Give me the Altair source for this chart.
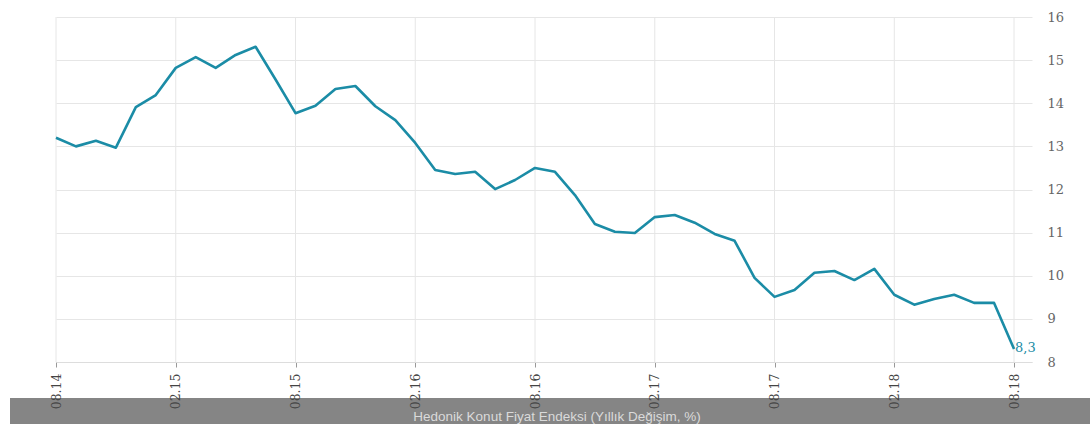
import json
import altair as alt
import pandas as pd

values = [13.2, 13.0, 13.13, 12.97, 13.91, 14.19, 14.82, 15.07, 14.82, 15.12,
          15.31, 14.55, 13.77, 13.94, 14.33, 14.40, 13.93, 13.61, 13.08, 12.45,
          12.36, 12.41, 12.01, 12.22, 12.50, 12.41, 11.87, 11.20, 11.02, 10.99,
          11.36, 11.41, 11.23, 10.97, 10.81, 9.95, 9.51, 9.67, 10.07, 10.11,
          9.90, 10.16, 9.56, 9.33, 9.46, 9.56, 9.37, 9.37, 8.3]
tick_labels = ["08.14", "02.15", "08.15", "02.16", "08.16", "02.17", "08.17", "02.18", "08.18"]
tick_positions = [0, 6, 12, 18, 24, 30, 36, 42, 48]
y_ticks = [8, 9, 10, 11, 12, 13, 14, 15, 16]
title_text = "Hedonik Konut Fiyat Endeksi (Yıllık Değişim, %)"
last_label = "8,3"

df = pd.DataFrame({"i": list(range(len(values))), "v": values})
ticks_df = pd.DataFrame({"i": tick_positions})

xscale = alt.Scale(domain=[0, 48.9], nice=False, zero=False)
yscale = alt.Scale(domain=[8, 16], nice=False, zero=False)

label_expr = json.dumps(tick_labels) + "[round(datum.value/6)]"

bar = alt.Chart(alt.Data(values=[{}])).mark_rect(color="#858585").encode(
    x=alt.value(-46), x2=alt.value(1034), y=alt.value(381), y2=alt.value(407)
)

vgrid = alt.Chart(ticks_df).mark_rule(color="#e6e6e6", strokeWidth=1).encode(
    x=alt.X("i:Q"),
    y=alt.value(0), y2=alt.value(345)
)

line = alt.Chart(df).mark_line(color="#1b8ca6", strokeWidth=2.6, strokeJoin="round").encode(
    x=alt.X("i:Q", scale=xscale,
            axis=alt.Axis(values=tick_positions, labelExpr=label_expr, grid=False,
                          labelAngle=270, labelAlign="right", labelBaseline="middle",
                          labelFont="DejaVu Serif", labelFontSize=12.5, labelColor="#444444",
                          labelPadding=6, tickSize=5, tickColor="#999999",
                          domainColor="#dddddd", title=None, zindex=1, labelFlush=False,
                          labelOverlap=False)),
    y=alt.Y("v:Q", scale=yscale,
            axis=alt.Axis(orient="right", values=y_ticks, grid=True, gridColor="#e6e6e6",
                          domain=False, ticks=False, labelPadding=15,
                          labelFont="DejaVu Serif", labelFontSize=13, labelColor="#666666",
                          title=None, labelFlush=False, labelAlign="left"))
)

last = alt.Chart(df.tail(1).assign(t=[last_label])).mark_text(
    color="#1b8ca6", font="DejaVu Serif", fontSize=13, align="left", baseline="middle", dx=1, dy=-1
).encode(
    x=alt.X("i:Q"),
    y=alt.Y("v:Q"),
    text="t:N"
)

title = alt.Chart(alt.Data(values=[{}])).mark_text(
    color="#dadada", font="Liberation Sans", fontSize=13.5, align="center", baseline="middle"
).encode(x=alt.value(501), y=alt.value(400), text=alt.value(title_text))

chart = alt.layer(bar, vgrid, line, last, title).properties(
    width=976, height=345,
    autosize=alt.AutoSizeParams(type="none"),
    padding={"left": 56, "top": 17, "right": 58, "bottom": 62}
).configure_view(stroke=None)

chart.save("out.html", embed_options={"renderer": "svg", "actions": False})
